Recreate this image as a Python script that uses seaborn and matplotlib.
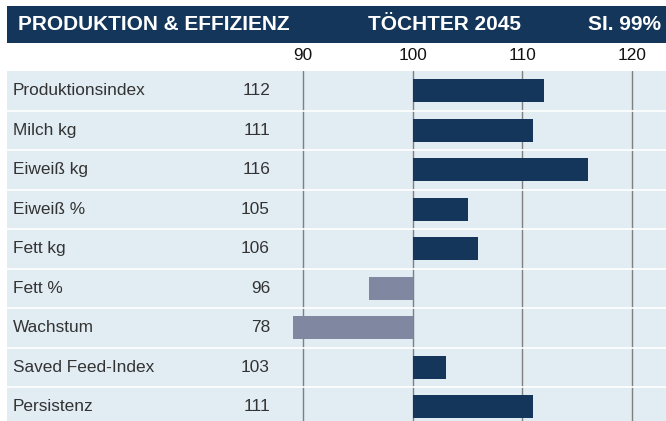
import matplotlib
matplotlib.use("Agg")
import matplotlib.pyplot as plt
import seaborn as sns
import pandas as pd

# chart data
traits = ["Produktionsindex", "Milch kg", "Eiweiß kg", "Eiweiß %", "Fett kg",
          "Fett %", "Wachstum", "Saved Feed-Index", "Persistenz"]
values = [112, 111, 116, 105, 106, 96, 78, 103, 111]
tick_values = [90, 100, 110, 120]
header_texts = ["PRODUKTION & EFFIZIENZ", "TÖCHTER 2045", "SI. 99%"]

NAVY = "#14365a"
GREY_BAR = "#8087a0"
ROW_BG = "#e1ecf3"
GRID = "#7f7f7f"
TEXT = "#333333"

sns.set_theme(style="white")
plt.rcParams["font.family"] = ["Liberation Sans", "DejaVu Sans"]

W, H = 666, 421
fig = plt.figure(figsize=(W / 100, H / 100), dpi=100)


def px_axes(x0, y0, x1, y1):
    """axes placed with pixel coords measured from top-left"""
    return fig.add_axes([x0 / W, 1 - y1 / H, (x1 - x0) / W, (y1 - y0) / H])


# header bar
hdr = px_axes(7, 6, 666, 43)
hdr.set_facecolor(NAVY)
hdr.set_xlim(7, 666)
hdr.set_ylim(0, 1)
hdr.set_xticks([])
hdr.set_yticks([])
for s in hdr.spines.values():
    s.set_visible(False)
hdr.text(18, 0.5, header_texts[0], color="white", fontsize=15, fontweight="bold",
         ha="left", va="center")
hdr.text(445, 0.5, header_texts[1], color="white", fontsize=15, fontweight="bold",
         ha="center", va="center")
hdr.text(661, 0.5, header_texts[2], color="white", fontsize=15, fontweight="bold",
         ha="right", va="center")

pitch = 39.5
top_px, bot_px = 71, 421
n_vis = (bot_px - top_px) / pitch
ylim = (-0.5 + n_vis, -0.5)

# label column
lab = px_axes(7, top_px, 293, bot_px)
lab.set_facecolor(ROW_BG)
lab.set_xlim(7, 293)
lab.set_ylim(*ylim)
lab.set_xticks([])
lab.set_yticks([])
for s in lab.spines.values():
    s.set_visible(False)
for i, (name, v) in enumerate(zip(traits, values)):
    lab.text(13, i, name, color=TEXT, fontsize=12.4, ha="left", va="center")
    lab.text(270, i, str(v), color=TEXT, fontsize=12.4, ha="right", va="center")

# bar area, bars drawn as deviation from 100
px_per_unit = (632 - 303) / 30
left_val = 90 - (303 - 293) / px_per_unit
right_val = 120 + (666 - 632) / px_per_unit

df = pd.DataFrame({"trait": traits, "dev": [v - 100 for v in values]})
df["sign"] = ["pos" if d >= 0 else "neg" for d in df["dev"]]

ax = px_axes(293, top_px, 666, bot_px)
ax.set_facecolor(ROW_BG)
sns.barplot(data=df, x="dev", y="trait", hue="sign",
            palette={"pos": NAVY, "neg": GREY_BAR}, dodge=False, width=0.58,
            legend=False, ax=ax, zorder=3, linewidth=0, saturation=1)
ax.set_xlim(left_val - 100, right_val - 100)
ax.set_ylim(*ylim)
for t in tick_values:
    ax.axvline(t - 100, color=GRID, lw=1.0, zorder=2)
ax.xaxis.tick_top()
ax.set_xticks([t - 100 for t in tick_values])
ax.set_xticklabels([str(t) for t in tick_values])
ax.tick_params(axis="x", length=0, pad=6, labelsize=12.4, labelcolor="#111111")
ax.set_yticks([])
ax.set_xlabel("")
ax.set_ylabel("")
for s in ax.spines.values():
    s.set_visible(False)

# white row separators
for a in (lab, ax):
    for i in range(len(traits)):
        a.axhline(i + 0.5, color="white", lw=1.2, zorder=4)

fig.savefig("out.png", dpi=100)
